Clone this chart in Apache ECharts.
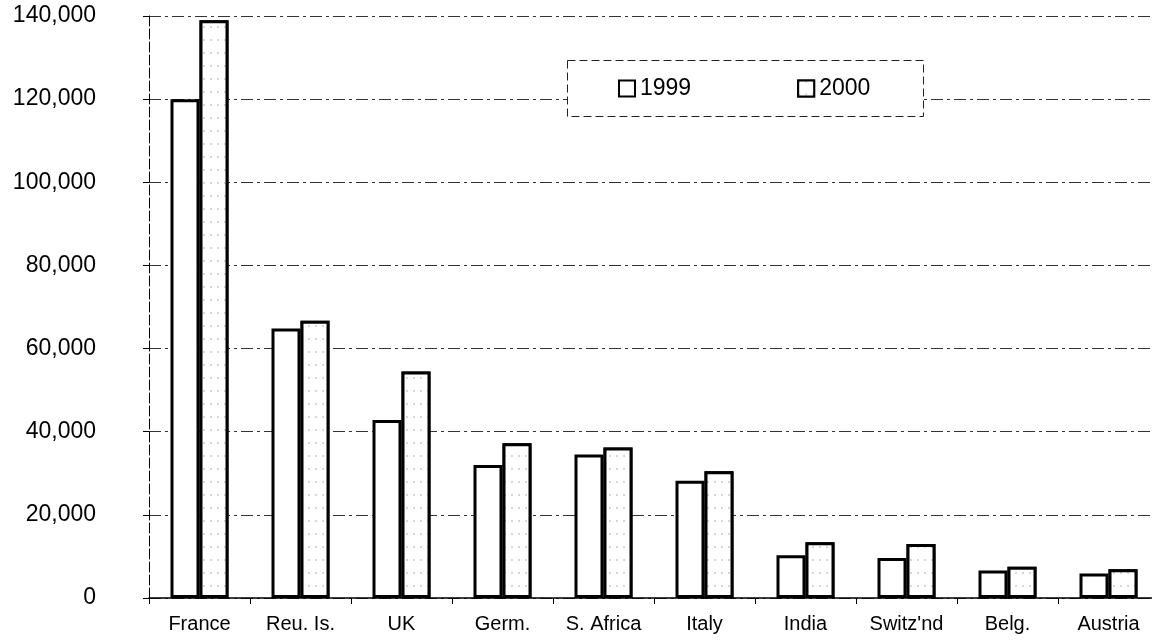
<!DOCTYPE html>
<html>
<head>
<meta charset="utf-8">
<script src="https://cdn.jsdelivr.net/npm/echarts@6/dist/echarts.min.js"></script>
<style>
  html, body { margin: 0; padding: 0; background: #fff; overflow: hidden; }
  /* plot area runs a little past the right edge of the picture, so the div is wider than the window */
  #chart { width: 1159px; height: 642px; }
</style>
</head>
<body>
<div id="chart"></div>
<script>
const categories = ['France', 'Reu. Is.', 'UK', 'Germ.', 'S. Africa', 'Italy', 'India', "Switz'nd", 'Belg.', 'Austria'];
const values1999 = [120000, 64800, 42800, 32000, 34500, 28200, 10300, 9600, 6600, 5900];
const values2000 = [139000, 66700, 54500, 37200, 36200, 30500, 13400, 13000, 7500, 6900];
const yTicks = [0, 20000, 40000, 60000, 80000, 100000, 120000, 140000];

const chart = echarts.init(document.getElementById('chart'));

chart.setOption({
  backgroundColor: '#fff',
  textStyle: { fontFamily: 'Liberation Sans, Arial, sans-serif', color: '#000' },
  grid: {
    left: 149,
    right: 0,
    top: 16,
    bottom: 44
  },
  legend: {
    left: 618,
    top: 77,
    icon: 'rect',
    itemWidth: 16,
    itemHeight: 16,
    itemGap: 106,
    padding: 0,
    z: 10,
    textStyle: { fontSize: 23, color: '#000', fontFamily: 'Liberation Sans, Arial, sans-serif' },
    data: ['1999', '2000']
  },
  graphic: [
    {
      type: 'rect',
      left: 567,
      top: 60,
      z: 5,
      shape: { width: 356, height: 56 },
      style: { fill: '#fff', stroke: '#222', lineWidth: 1, lineDash: [8, 4] }
    }
  ],
  xAxis: {
    type: 'category',
    data: categories,
    axisLine: { lineStyle: { color: '#000', width: 1.5 } },
    axisTick: { show: true, interval: 0, length: 6, lineStyle: { color: '#000' } },
    axisLabel: { interval: 0, fontSize: 20, color: '#000', margin: 16 }
  },
  yAxis: {
    type: 'value',
    min: yTicks[0],
    max: yTicks[yTicks.length - 1],
    interval: 20000,
    axisLine: { show: true, lineStyle: { color: '#000', width: 1, type: [10, 3] } },
    axisTick: { show: true, length: 6, lineStyle: { color: '#000' } },
    axisLabel: {
      fontSize: 23,
      color: '#000',
      margin: 53,
      formatter: v => v.toLocaleString('en-US')
    },
    splitLine: { show: true, lineStyle: { color: '#333', width: 1, type: [12, 4, 3, 4] } }
  },
  series: [
    {
      name: '1999',
      type: 'bar',
      barWidth: 29,
      barGap: '0%',
      data: values1999,
      itemStyle: { color: '#fff', borderColor: '#000', borderWidth: 3 }
    },
    {
      name: '2000',
      type: 'bar',
      barWidth: 29,
      barGap: '0%',
      data: values2000,
      itemStyle: {
        color: '#fff',
        borderColor: '#000',
        borderWidth: 3,
        decal: {
          symbol: 'rect',
          symbolSize: 0.6,
          color: '#777',
          backgroundColor: '#fff',
          dashArrayX: [[2, 5]],
          dashArrayY: [2, 11],
          rotation: 0
        }
      }
    }
  ]
});
</script>
</body>
</html>
